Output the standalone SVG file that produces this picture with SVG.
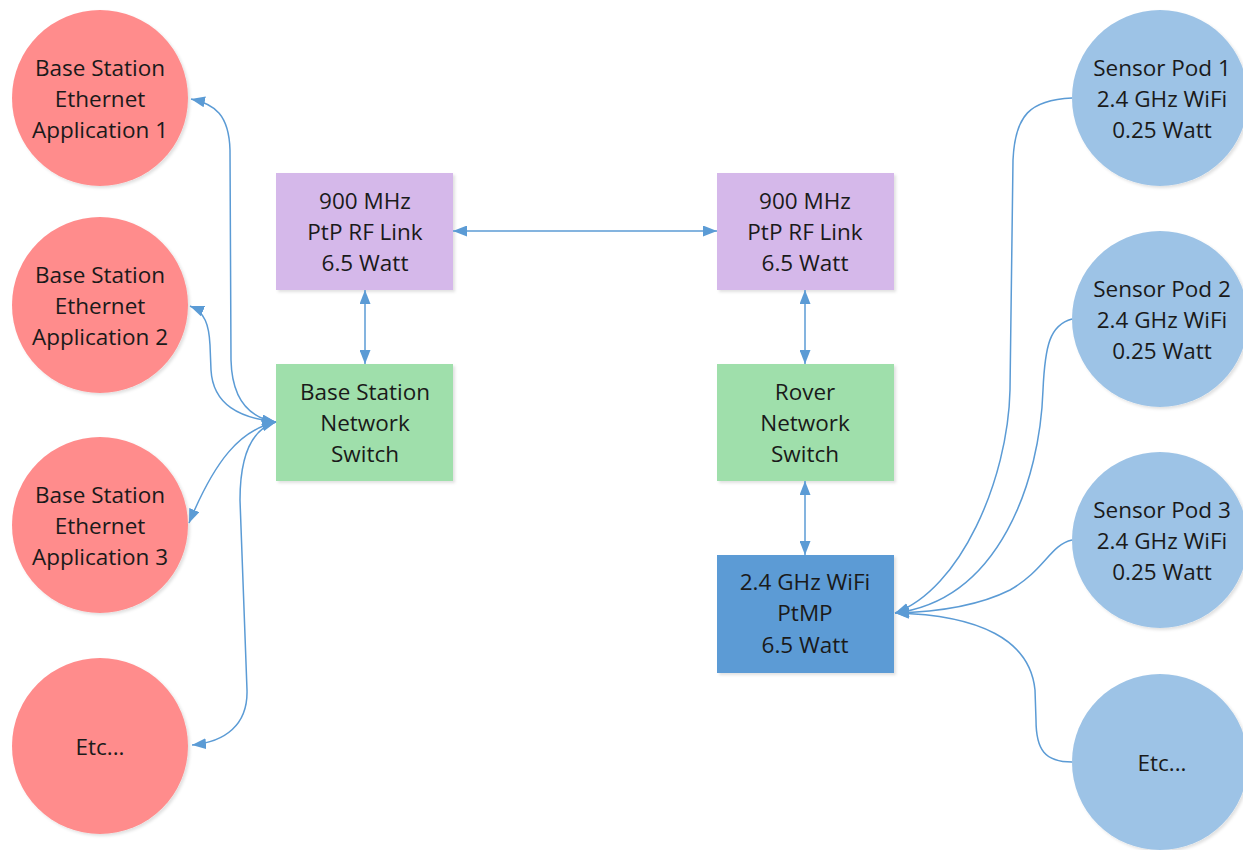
<svg xmlns="http://www.w3.org/2000/svg" width="1243" height="850" viewBox="0 0 1243 850">
<defs>
<marker id="arr" viewBox="0 0 14 11" refX="14" refY="5.5" markerWidth="14" markerHeight="11" markerUnits="userSpaceOnUse" orient="auto-start-reverse">
<path d="M0,0 L14,5.5 L0,11 z" fill="#5B9BD5"/>
</marker>
<filter id="sh" x="-10%" y="-10%" width="125%" height="125%">
<feDropShadow dx="2" dy="2" stdDeviation="1.5" flood-color="#000" flood-opacity="0.12"/>
</filter>
</defs>
<style>
text{font-family:"Open Sans","Liberation Sans",sans-serif;font-size:22.5px;fill:#1a1a1a;text-anchor:middle}
.red{fill:#FF8C8C;filter:url(#sh)}
.lb{fill:#9DC3E6;filter:url(#sh)}
.pur{fill:#D5B8EA;filter:url(#sh)}
.grn{fill:#9FDFAB;filter:url(#sh)}
.blu{fill:#5B9BD5;filter:url(#sh)}
.c{fill:none;stroke:#5B9BD5;stroke-width:1.5}
</style>
<rect width="1243" height="850" fill="#fff"/>

<g id="bsapp1"><circle class="red" cx="100" cy="98" r="88"/><text x="100" y="76">Base Station</text><text x="100" y="107">Ethernet</text><text x="100" y="138">Application 1</text></g>
<g id="bsapp2"><circle class="red" cx="100" cy="305" r="88"/><text x="100" y="283">Base Station</text><text x="100" y="314">Ethernet</text><text x="100" y="345">Application 2</text></g>
<g id="bsapp3"><circle class="red" cx="100" cy="525" r="88"/><text x="100" y="503">Base Station</text><text x="100" y="534">Ethernet</text><text x="100" y="565">Application 3</text></g>
<g id="bsetc"><circle class="red" cx="100" cy="746" r="88"/><text x="100" y="755">Etc...</text></g>

<g id="rf1"><rect class="pur" x="276" y="173" width="177" height="117"/><text x="365" y="209">900 MHz</text><text x="365" y="240">PtP RF Link</text><text x="365" y="271">6.5 Watt</text></g>
<g id="rf2"><rect class="pur" x="717" y="173" width="177" height="117"/><text x="805" y="209">900 MHz</text><text x="805" y="240">PtP RF Link</text><text x="805" y="271">6.5 Watt</text></g>
<g id="bsswitch"><rect class="grn" x="276" y="364" width="177" height="117"/><text x="365" y="400">Base Station</text><text x="365" y="431">Network</text><text x="365" y="462">Switch</text></g>
<g id="rvswitch"><rect class="grn" x="717" y="364" width="177" height="117"/><text x="805" y="400">Rover</text><text x="805" y="431">Network</text><text x="805" y="462">Switch</text></g>
<g id="wifi"><rect class="blu" x="717" y="555" width="177" height="118"/><text x="805" y="590">2.4 GHz WiFi</text><text x="805" y="621">PtMP</text><text x="805" y="653">6.5 Watt</text></g>

<g id="pod1"><circle class="lb" cx="1160" cy="98" r="88"/><text x="1162" y="76">Sensor Pod 1</text><text x="1162" y="107">2.4 GHz WiFi</text><text x="1162" y="138">0.25 Watt</text></g>
<g id="pod2"><circle class="lb" cx="1160" cy="319" r="88"/><text x="1162" y="297">Sensor Pod 2</text><text x="1162" y="328">2.4 GHz WiFi</text><text x="1162" y="359">0.25 Watt</text></g>
<g id="pod3"><circle class="lb" cx="1160" cy="540" r="88"/><text x="1162" y="518">Sensor Pod 3</text><text x="1162" y="549">2.4 GHz WiFi</text><text x="1162" y="580">0.25 Watt</text></g>
<g id="podetc"><circle class="lb" cx="1160" cy="762" r="88"/><text x="1162" y="771">Etc...</text></g>

<g id="connectors">
<path class="c" d="M453 231 L717 231" marker-start="url(#arr)" marker-end="url(#arr)"/>
<path class="c" d="M365 290 L365 364" marker-start="url(#arr)" marker-end="url(#arr)"/>
<path class="c" d="M805 290 L805 364" marker-start="url(#arr)" marker-end="url(#arr)"/>
<path class="c" d="M805 481 L805 555" marker-start="url(#arr)" marker-end="url(#arr)"/>

<path class="c" d="M191 99 C215 104 229 115 230 150 L231 360 C232 400 250 418 276 422" marker-start="url(#arr)" marker-end="url(#arr)"/>
<path class="c" d="M190 306 C205 312 209 325 210 345 L211 370 C213 405 240 418 276 422" marker-start="url(#arr)" marker-end="url(#arr)"/>
<path class="c" d="M189 523 C215 460 240 430 276 422" marker-start="url(#arr)" marker-end="url(#arr)"/>
<path class="c" d="M192 745 C225 742 248 725 247 690 L240 500 C240 450 255 428 276 422" marker-start="url(#arr)" marker-end="url(#arr)"/>

<path class="c" d="M1072 98 C1030 100 1015 115 1013 160 L1010 390 C1008 480 960 590 895 613" marker-end="url(#arr)"/>
<path class="c" d="M1072 319 C1050 325 1045 345 1043 390 C1040 480 1000 600 895 613" marker-end="url(#arr)"/>
<path class="c" d="M1072 540 C1050 545 1045 570 1010 590 C980 605 940 612 895 613" marker-end="url(#arr)"/>
<path class="c" d="M1072 762 C1045 762 1036 750 1036 720 L1035 690 C1030 640 980 615 895 613" marker-end="url(#arr)"/>
</g>
</svg>
